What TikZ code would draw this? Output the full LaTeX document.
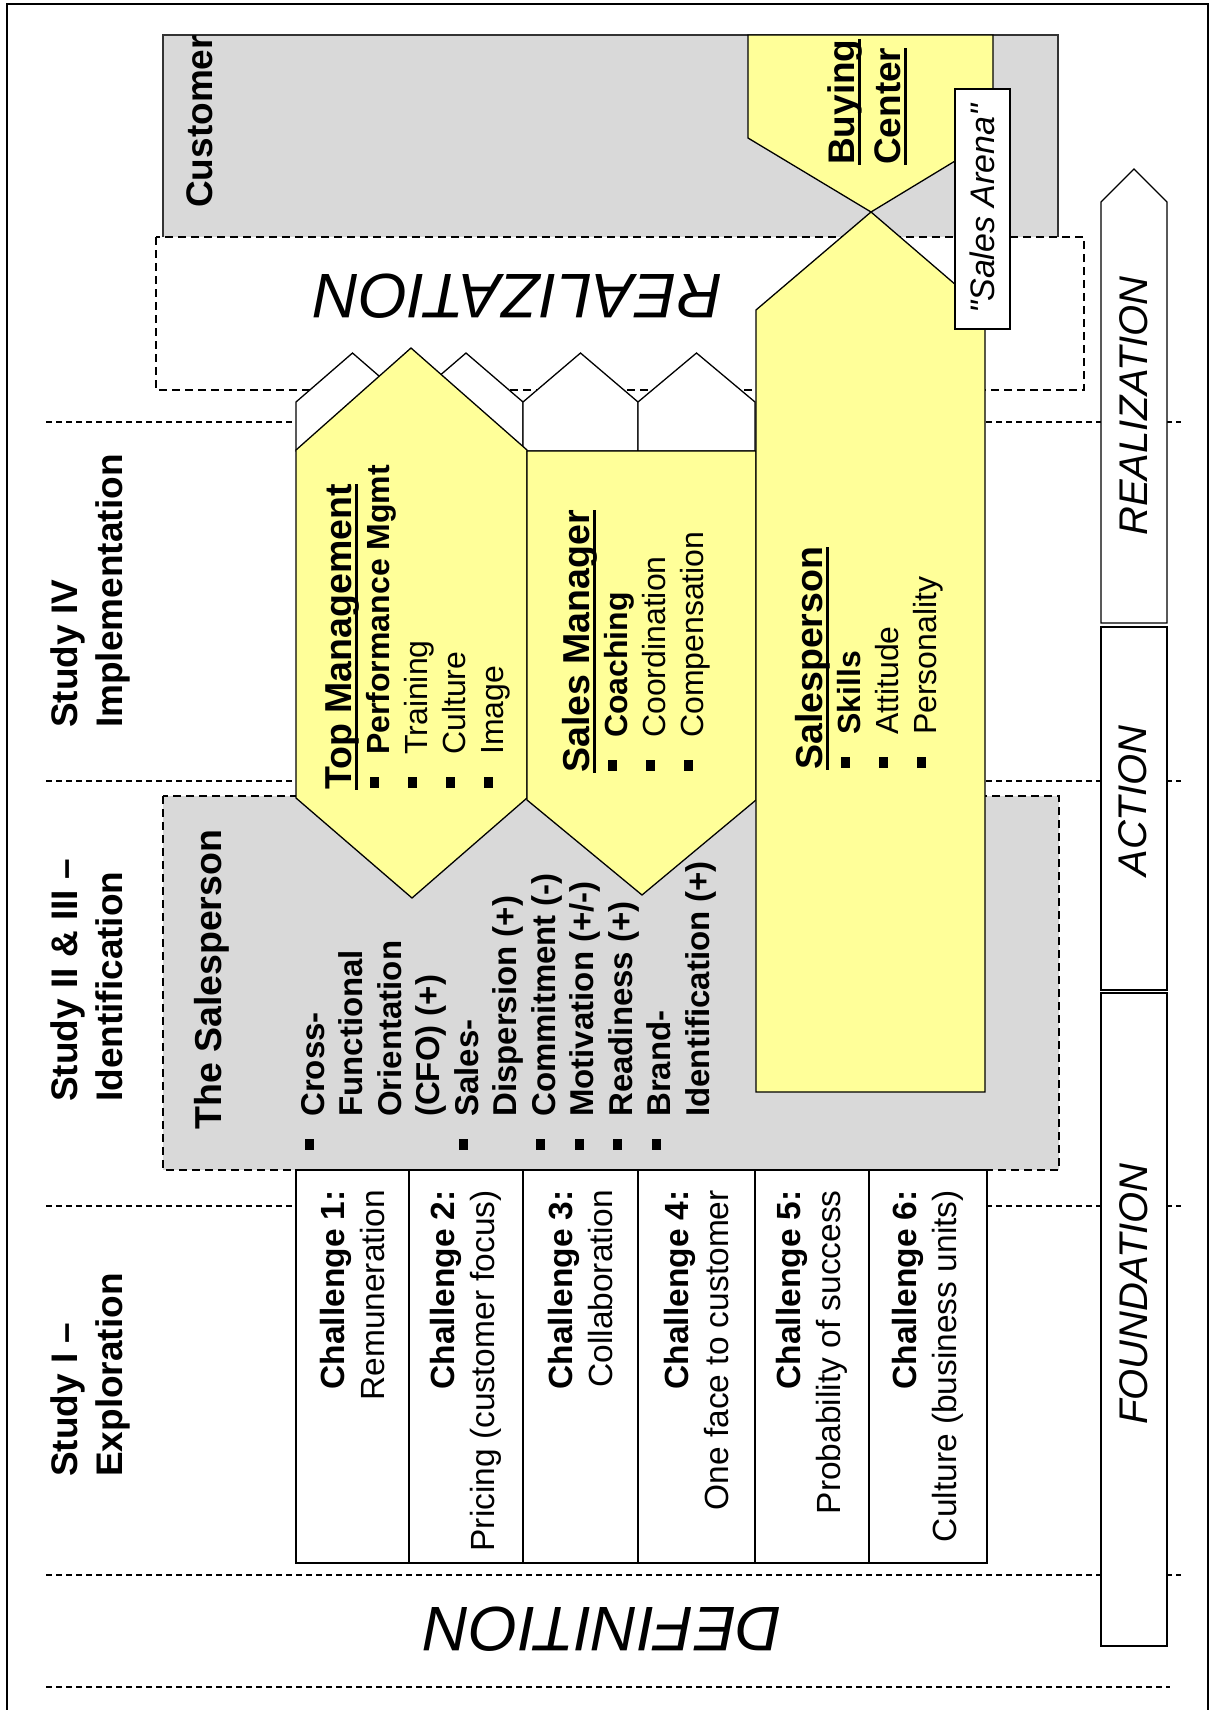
\documentclass[tikz,border=0pt]{standalone}
\usepackage{fontspec}
\setmainfont{Liberation Sans}
\usetikzlibrary{positioning}
\definecolor{paleyellow}{HTML}{FFFF99}
\definecolor{areagray}{HTML}{D9D9D9}
\newcommand{\fsz}[2]{\fontsize{#1}{#2}\selectfont}
\newcommand{\ulin}[1]{\sbox0{#1}\rlap{\rule[-7pt]{\wd0}{3pt}}\usebox0}
\newcommand{\bul}{\makebox[35pt][l]{\hspace{2pt}\rule[10pt]{11pt}{9pt}}}
\newcommand{\nob}{\hspace*{35pt}}
\tikzstyle{yelshape}=[fill=paleyellow,draw=black,line width=1.3pt]
\tikzstyle{fence}=[fill=white,draw=black,line width=1.3pt]
\tikzstyle{zoneline}=[line width=1.3pt,dash pattern=on 6pt off 4pt]
\tikzstyle{dashbox}=[line width=1.3pt,dash pattern=on 8pt off 5pt]
% base of a multi-line node = baseline of its last line
\tikzstyle{vlabel}=[rotate=90,inner sep=0pt,align=left,anchor=base west]
\tikzstyle{phase}=[rotate=90,inner sep=0pt,font=\fsz{40}{48}\itshape]
\tikzstyle{bigmirror}=[rotate=180,inner sep=0pt,font=\fsz{63}{70}\itshape]

\begin{document}
\begin{tikzpicture}[x=1pt,y=-1pt]
\useasboundingbox (0,0) rectangle (1213,1710);
\draw[line width=1.8pt] (7,4) rectangle (1208,1730);

% customer side
\fill[areagray] (163,35) rectangle (1058,237);
\draw[line width=1.3pt,black!80] (163,237) -- (163,35) -- (1058,35) -- (1058,237);

\foreach \yy in {422,781,1206,1575}
	\draw[zoneline] (46,\yy) -- (1181,\yy);
\draw[zoneline] (46,1687) -- (1170,1687);

\draw[dashbox] (156,237) rectangle (1084,390);
\draw[dashbox,fill=areagray] (163,796) rectangle (1059,1170);

% challenges and fence
\foreach \a/\b in {296/409,409/523,523/638,638/755,755/869,869/987}
	\draw[fence] (\a,1170) rectangle (\b,1563);
\foreach \a/\b in {296/409,409/523,523/638,638/755}
	\draw[fence] (\a,451) -- (\a,402) -- ({(\a+\b)/2},353) -- (\b,402) -- (\b,451) -- cycle;

\draw[yelshape] (296,450) -- (411,348) -- (527,450) -- (527,798) -- (412,898) -- (296,798) -- cycle;
\draw[yelshape] (527,451) -- (756,451) -- (756,800) -- (642,895) -- (527,800) -- cycle;
\draw[yelshape] (756,310) -- (871,212) -- (985,310) -- (985,1092) -- (756,1092) -- cycle;
\draw[yelshape] (748,35) -- (993,35) -- (993,138) -- (871,212) -- (748,138) -- cycle;

\node[rotate=90,draw,fill=white,line width=1.3pt,inner sep=0pt,minimum width=240pt,minimum height=55pt,font=\fsz{34}{40}\itshape] (arena) at (982.5,209) {\textquotedbl Sales Arena\textquotedbl};

% phases
\draw[fence] (1101,623) -- (1101,202) -- (1134,169) -- (1167,202) -- (1167,623) -- cycle;
\draw[fence] (1101,627) rectangle (1167,990);
\draw[fence] (1101,993) rectangle (1167,1646);
\node[phase] (realiz) at (1134,406) {REALIZATION};
\node[phase] (action) at (1133,801) {ACTION};
\node[phase] (found) at (1134,1294) {FOUNDATION};

\node[bigmirror] (realbig) at (518,296) {REALIZATION};
\node[bigmirror] (defbig) at (603,1629) {DEFINITION};

% studies
\node[vlabel,font=\fsz{37}{45}\bfseries] (study4) at (122,728) {Study IV\\Implementation};
\node[vlabel,font=\fsz{37}{45}\bfseries] (study23) at (122,1102) {Study II \& III –\\Identification};
\node[vlabel,font=\fsz{37}{45}\bfseries] (study1) at (122,1477) {Study I –\\Exploration};

\node[vlabel,font=\fsz{37}{45}\bfseries] (customer) at (212,208) {Customer};
\node[vlabel,font=\fsz{37}{46}\bfseries] (buying) at (900,165) {\ulin{Buying}\\\ulin{Center}};

\node[vlabel,font=\fsz{32}{38}] (topmgmt) at (503,790)
	{\ulin{\fsz{37.5}{38}\bfseries Top Management}\\\bul\textbf{Performance Mgmt}\\\bul Training\\\bul Culture\\\bul Image};
\node[vlabel,font=\fsz{32}{38}] (salesmgr) at (703,773)
	{\ulin{\fsz{37.5}{38}\bfseries Sales Manager}\\\bul\textbf{Coaching}\\\bul Coordination\\\bul Compensation};
\node[vlabel,font=\fsz{32}{38}] (salesp) at (936,770)
	{\ulin{\fsz{37.5}{38}\bfseries Salesperson}\\\bul\textbf{Skills}\\\bul Attitude\\\bul Personality};

\node[vlabel,font=\fsz{37.5}{45}\bfseries] (thesp) at (221,1130) {The Salesperson};
\node[vlabel,font=\fsz{33}{38.5}\bfseries] (factors) at (709,1152)
	{\bul Cross-\\\nob Functional\\\nob Orientation\\\nob (CFO) (+)\\\bul Sales-\\\nob Dispersion (+)\\\bul Commitment (-)\\\bul Motivation (+/-)\\\bul Readiness (+)\\\bul Brand-\\\nob Identification (+)};

\foreach \c/\n/\txt in {352.5/1/Remuneration,466/2/Pricing (customer focus),580.5/3/Collaboration,696.5/4/One face to customer,812/5/Probability of success,928/6/Culture (business units)}
	\node[rotate=90,inner sep=0pt,align=right,anchor=east,font=\fsz{33.5}{40}] (ch\n) at (\c,1190) {\textbf{Challenge \n:}\\\txt};
\end{tikzpicture}
\end{document}
